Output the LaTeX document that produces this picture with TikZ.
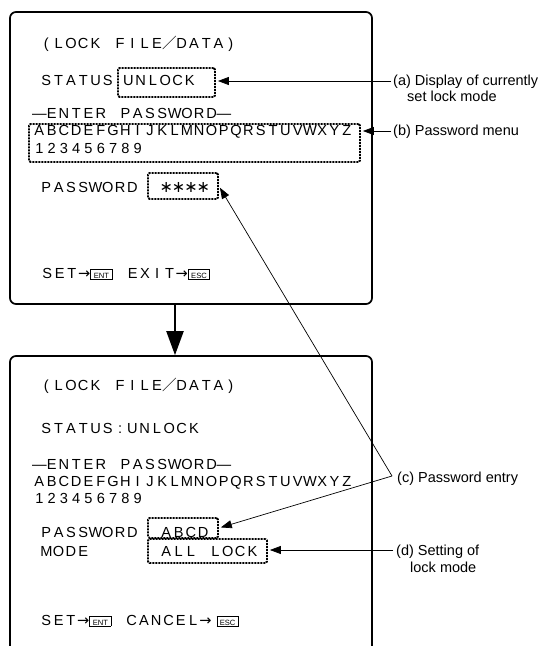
\documentclass[tikz,border=0pt]{standalone}
\usepackage{fontspec}
\setmainfont{Liberation Sans}
\newfontfamily\lcdfont{Liberation Sans}
\newfontfamily\symfont{DejaVu Sans}
\newfontfamily\cjkfont{Noto Sans CJK JP}
\usetikzlibrary{arrows.meta}
\newlength\lcdw \setlength\lcdw{12.3pt}
\makeatletter
\def\lcd#1{\lcd@loop#1\lcd@stop}
\def\lcd@stop{\lcd@stop}
\def\lcd@loop#1{\ifx#1\lcd@stop\else\makebox[\lcdw][c]{#1}\expandafter\lcd@loop\fi}
\makeatother
\newcommand\SL{{\cjkfont ／}}
\newcommand\RA{{\symfont →}}
\newcommand\AST{{\symfont\fontsize{16}{16}\selectfont ∗}}
\newcommand\keycap[1]{{\setlength\fboxsep{0.6pt}\setlength\fboxrule{0.7pt}\fbox{\makebox[19.5pt][c]{\rule{0pt}{7.6pt}\fontsize{7.6}{8}\selectfont #1}}}}
\begin{document}
\begin{tikzpicture}[x=1pt,y=-1pt,
  screen/.style={draw, line width=1.7pt, rounded corners=6pt, inner sep=0},
  dbox/.style={draw, line width=1.8pt, dash pattern=on 2pt off 1pt, rounded corners=1.5pt, inner sep=0},
  lcdtext/.style={anchor=base west, inner sep=0, font=\lcdfont\fontsize{14.6}{16}\selectfont},
  lbl/.style={anchor=base west, inner sep=0, font=\fontsize{14.5}{16}\selectfont},
  leader/.style={line width=0.7pt, -{Triangle[length=11pt,width=8pt]}, shorten >=2pt},
  bigarrow/.style={line width=2.2pt, -{Triangle[length=24pt,width=17pt]}}]
\useasboundingbox (0,0) rectangle (543,646);

% screens
\node[screen, minimum width=362, minimum height=292] (top) at (191,158) {};
\begin{scope}
\clip (0,0) rectangle (543,646);
\node[screen, minimum width=362, minimum height=340] (bot) at (191,526) {};
\end{scope}
\coordinate (ax) at (175,330);
\draw[bigarrow] (top.south -| ax) -- (bot.north -| ax);

% top screen
\node[lcdtext] (t1) at (40,48) {\lcd{(LOCK~FILE\SL DATA)}};
\node[lcdtext] (t2) at (40,85) {\lcd{STATUS}};
\node[dbox, minimum width=97, minimum height=29] (unlockbox) at (166.5,82.5) {};
\node[lcdtext] (t3) at (122,85) {\lcd{UNLOCK}};
\node[lcdtext] (t4) at (33,118) {\lcd{—ENTER~PASSWORD—}};
\node[dbox, minimum width=331, minimum height=38] (menubox) at (194.5,143) {};
\node[lcdtext] (t5) at (33,135) {\lcd{ABCDEFGHIJKLMNOPQRSTUVWXYZ}};
\node[lcdtext] (t6) at (33,153) {\lcd{123456789}};
\node[lcdtext] (t7) at (40,192) {\lcd{PASSWORD}};
\node[dbox, minimum width=70, minimum height=26] (starbox) at (183,186) {};
\node[lcdtext] (t8) at (160,192) {\lcd{\AST\AST\AST\AST}};
\node[lcdtext] (t9) at (41,278) {\lcd{SET\RA}\keycap{ENT}\hspace{14pt}\lcd{EXIT\RA}\keycap{ESC}};

% bottom screen
\node[lcdtext] (b1) at (40,390) {\lcd{(LOCK~FILE\SL DATA)}};
\node[lcdtext] (b2) at (40,433) {\lcd{STATUS:UNLOCK}};
\node[lcdtext] (b3) at (33,469) {\lcd{—ENTER~PASSWORD—}};
\node[lcdtext] (b4) at (33,486) {\lcd{ABCDEFGHIJKLMNOPQRSTUVWXYZ}};
\node[lcdtext] (b5) at (33,503) {\lcd{123456789}};
\node[lcdtext] (b6) at (40,537) {\lcd{PASSWORD}};
\node[dbox, minimum width=70, minimum height=20] (abcdbox) at (183,528) {};
\node[lcdtext] (b7) at (160,537) {\lcd{ABCD}};
\node[lcdtext] (b8) at (40,556) {\lcd{MODE}};
\node[dbox, minimum width=119, minimum height=24] (modebox) at (207.5,551) {};
\node[lcdtext] (b9) at (160,556) {\lcd{ALL~LOCK}};
\node[lcdtext] (b10) at (40,625) {\lcd{SET\RA}\keycap{ENT}\hspace{14pt}\lcd{CANCEL\RA}\hspace{5pt}\keycap{ESC}};

% labels
\node[lbl] (la1) at (393,85) {(a) Display of currently};
\node[lbl] (la2) at (407,101) {set lock mode};
\node[lbl] (lb) at (393,135) {(b) Password menu};
\node[lbl] (lc) at (397,482) {(c) Password entry};
\node[lbl] (ld1) at (396,555) {(d) Setting of};
\node[lbl] (ld2) at (410,572) {lock mode};

% leaders
\coordinate (ca) at (391,81);
\coordinate (cb) at (391,131);
\coordinate (cc) at (392,476);
\coordinate (cd) at (393,550);
\draw[leader] (ca) -- (ca -| unlockbox.east);
\draw[leader] (cb) -- (cb -| menubox.east);
\draw[leader] (cc) -- (starbox.east);
\draw[leader] (cc) -- (abcdbox.east);
\draw[leader] (cd) -- (cd -| modebox.east);
\end{tikzpicture}
\end{document}
